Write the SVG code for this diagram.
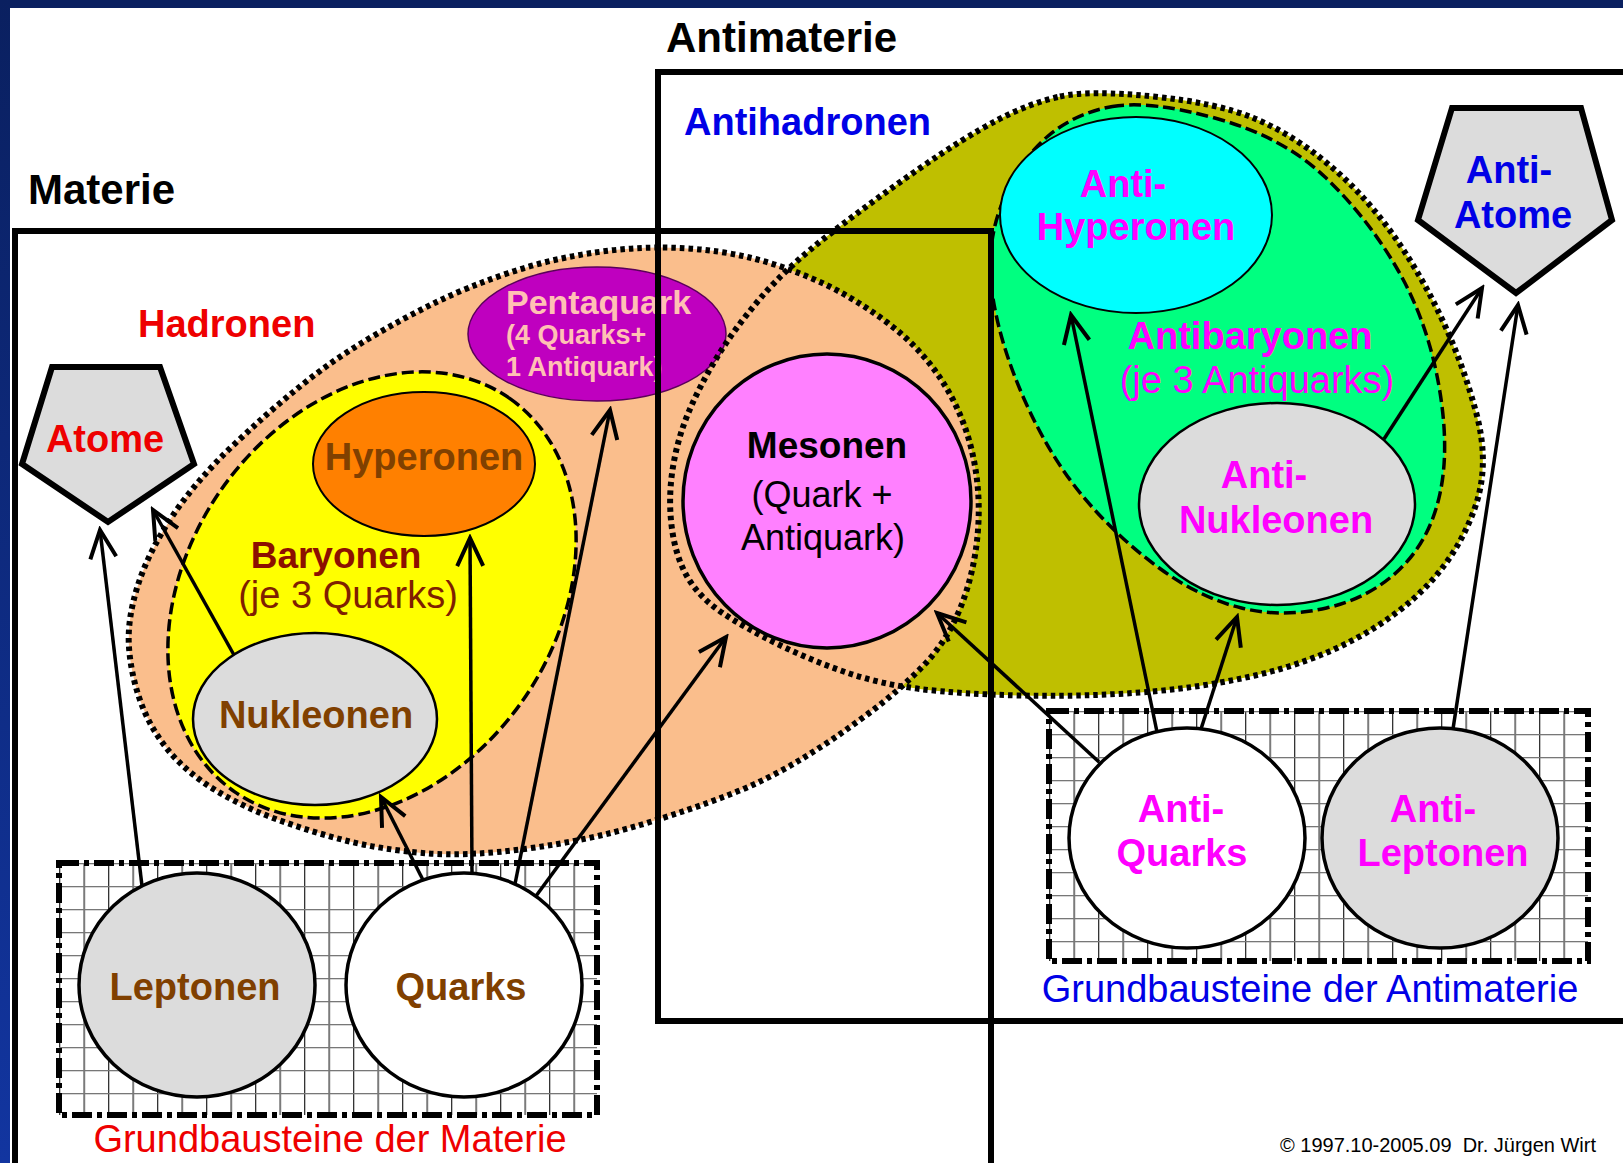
<svg xmlns="http://www.w3.org/2000/svg" width="1623" height="1163" viewBox="0 0 1623 1163">
<defs>
<style>
text{font-family:"Liberation Sans",Arial,sans-serif}
.b{font-weight:bold}
.c{text-anchor:middle}
.dot{fill:none;stroke:#000;stroke-width:6;stroke-dasharray:4.5 4}
.dash{stroke:#000;stroke-width:3.5;stroke-dasharray:12 5}
.box{fill:none;stroke:#000;stroke-width:6}
.dd{stroke:#000;stroke-width:6;stroke-dasharray:20 5 5 5}
.arr{fill:none;stroke:#000;stroke-width:3.5;marker-end:url(#ah)}
.red{fill:#EE0000}
.blue{fill:#0000E6}
.mag{fill:#FF00FF}
.brn{fill:#804000}
.gray{fill:#DCDCDC}
.pent{fill:#DCDCDC;stroke:#000;stroke-width:6;stroke-linejoin:miter}
</style>
<linearGradient id="lb" x1="0" y1="0" x2="0" y2="1">
<stop offset="0" stop-color="#0A2060"/><stop offset="1" stop-color="#1235A0"/>
</linearGradient>
<marker id="ah" markerUnits="userSpaceOnUse" viewBox="-32 -16 36 32" markerWidth="36" markerHeight="32" refX="0" refY="0" orient="auto">
<path d="M-28,-13 L0,0 L-28,13" fill="none" stroke="#000" stroke-width="4"/>
</marker>
<pattern id="g1" patternUnits="userSpaceOnUse" x="59" y="863" width="24.5" height="23">
<path d="M0.65,0V23" stroke="#333" stroke-width="1.3"/><path d="M0,0.65H24.5" stroke="#777" stroke-width="1.3"/>
</pattern>
<pattern id="g2" patternUnits="userSpaceOnUse" x="1049" y="711" width="24.5" height="23">
<path d="M0.65,0V23" stroke="#333" stroke-width="1.3"/><path d="M0,0.65H24.5" stroke="#777" stroke-width="1.3"/>
</pattern>
</defs>

<g id="frame">
<rect width="1623" height="1163" fill="#fff"/>
<rect width="1623" height="8" fill="#0A2060"/>
<rect width="10" height="1163" fill="url(#lb)"/>
</g>

<g id="titles">
<text class="b" x="28" y="204" font-size="42">Materie</text>
<text class="b" x="666" y="52" font-size="42">Antimaterie</text>
</g>

<g id="hadronen-antihadronen-fills">
<path id="olive-fill" fill="#BFBF00" d="M1060,96.5 Q1090,90 1153.5,96.5 Q1217,103 1253.5,118 Q1290,133 1325,161.5 Q1360,190 1388.5,228.5 Q1417,267 1440,315 Q1463,363 1476.5,414 Q1490,465 1475,507.5 Q1460,550 1430,582.5 Q1400,615 1355,639 Q1310,663 1255,675.5 Q1200,688 1140,692.5 Q1080,697 1020,695.5 Q960,694 920,689 Q880,684 845,672 Q810,660 777.5,644 Q745,628 722.5,613 Q700,598 688,578 Q676,558 672,529 Q668,500 672.5,470 Q677,440 688.5,412.5 Q700,385 717.5,356.5 Q735,328 761,297.5 Q787,267 830.5,233.5 Q874,200 919.5,168.5 Q965,137 997.5,120 Q1030,103 1060,96.5Z"/>
<path id="orange-fill" fill="#FABE8C" d="M595,252.5 Q640,246 680,248 Q720,250 753.5,258.5 Q787,267 820,282 Q853,297 886.5,322 Q920,347 941.5,380 Q963,413 972,451.5 Q981,490 978,530 Q975,570 961.5,605 Q948,640 924,665 Q900,690 866.5,715 Q833,740 800,760 Q767,780 728.5,795 Q690,810 640,825 Q590,840 528,848.5 Q466,857 422.5,853 Q379,849 345.5,840.5 Q312,832 278.5,820 Q245,808 216,790.5 Q187,773 168.5,750.5 Q150,728 140.5,701.5 Q131,675 129,647.5 Q127,620 137.5,586.5 Q148,553 171.5,517.5 Q195,482 231,447.5 Q267,413 300,386.5 Q333,360 366.5,340 Q400,320 433.5,303.5 Q467,287 508.5,273 Q550,259 595,252.5Z"/>
</g>

<g id="pentaquark">
<ellipse cx="597" cy="334" rx="129" ry="67" fill="#BF00BF" stroke="#5A005A" stroke-width="1.5"/>
<text class="b" x="506" y="314" font-size="34" fill="#FFC0B4">Pentaquark</text>
<text class="b" x="506" y="344" font-size="27" fill="#FFC0B4">(4 Quarks+</text>
<text class="b" x="506" y="376" font-size="27" fill="#FFC0B4">1 Antiquark)</text>
</g>

<g id="hadronen">
<path class="dot" d="M595,252.5 Q640,246 680,248 Q720,250 753.5,258.5 Q787,267 820,282 Q853,297 886.5,322 Q920,347 941.5,380 Q963,413 972,451.5 Q981,490 978,530 Q975,570 961.5,605 Q948,640 924,665 Q900,690 866.5,715 Q833,740 800,760 Q767,780 728.5,795 Q690,810 640,825 Q590,840 528,848.5 Q466,857 422.5,853 Q379,849 345.5,840.5 Q312,832 278.5,820 Q245,808 216,790.5 Q187,773 168.5,750.5 Q150,728 140.5,701.5 Q131,675 129,647.5 Q127,620 137.5,586.5 Q148,553 171.5,517.5 Q195,482 231,447.5 Q267,413 300,386.5 Q333,360 366.5,340 Q400,320 433.5,303.5 Q467,287 508.5,273 Q550,259 595,252.5Z"/>
<text class="b red" x="138" y="337" font-size="38">Hadronen</text>
</g>

<g id="antihadronen">
<path class="dot" d="M1060,96.5 Q1090,90 1153.5,96.5 Q1217,103 1253.5,118 Q1290,133 1325,161.5 Q1360,190 1388.5,228.5 Q1417,267 1440,315 Q1463,363 1476.5,414 Q1490,465 1475,507.5 Q1460,550 1430,582.5 Q1400,615 1355,639 Q1310,663 1255,675.5 Q1200,688 1140,692.5 Q1080,697 1020,695.5 Q960,694 920,689 Q880,684 845,672 Q810,660 777.5,644 Q745,628 722.5,613 Q700,598 688,578 Q676,558 672,529 Q668,500 672.5,470 Q677,440 688.5,412.5 Q700,385 717.5,356.5 Q735,328 761,297.5 Q787,267 830.5,233.5 Q874,200 919.5,168.5 Q965,137 997.5,120 Q1030,103 1060,96.5Z"/>
<text class="b blue" x="684" y="135" font-size="38">Antihadronen</text>
</g>

<g id="baryonen">
<ellipse class="dash" cx="372" cy="595" rx="240" ry="184" transform="rotate(-55 372 595)" fill="#FFFF00"/>
<text class="b c" x="336" y="568" font-size="37" fill="#8C1000">Baryonen</text>
<text class="c" x="348" y="608" font-size="38" fill="#7F1F00">(je 3 Quarks)</text>
</g>

<g id="hyperonen">
<ellipse cx="424" cy="464" rx="111" ry="72" fill="#FF8000" stroke="#000" stroke-width="2"/>
<text class="b c brn" x="424" y="470" font-size="38">Hyperonen</text>
</g>

<g id="nukleonen">
<ellipse class="gray" cx="315" cy="719" rx="122" ry="86" stroke="#000" stroke-width="2.5"/>
<text class="b c brn" x="316" y="728" font-size="38">Nukleonen</text>
</g>

<g id="mesonen">
<ellipse cx="827" cy="501" rx="144" ry="147" fill="#FF80FF" stroke="#000" stroke-width="3.5"/>
<text class="b c" x="827" y="458" font-size="37">Mesonen</text>
<text class="c" x="822" y="507" font-size="36">(Quark +</text>
<text class="c" x="823" y="550" font-size="36">Antiquark)</text>
</g>

<g id="antibaryonen">
<path class="dash" fill="#00FF80" d="M1112.5,106.5 Q1150,100 1216.5,118.5 Q1283,137 1325,177 Q1367,217 1397,268.5 Q1427,320 1438.5,383.5 Q1450,447 1440,493.5 Q1430,540 1400,569 Q1370,598 1326.5,608 Q1283,618 1241.5,608 Q1200,598 1158.5,567.5 Q1117,537 1083.5,497 Q1050,457 1025,401 Q1000,345 992.5,295 Q985,245 1002.5,202.5 Q1020,160 1047.5,136.5 Q1075,113 1112.5,106.5Z"/>
<text class="b c mag" x="1250" y="349" font-size="38">Antibaryonen</text>
<text class="c mag" x="1257" y="393" font-size="38">(je 3 Antiquarks)</text>
</g>

<g id="antihyperonen">
<ellipse cx="1136" cy="215" rx="136" ry="98" fill="#00FFFF" stroke="#000" stroke-width="2"/>
<text class="b c mag" x="1123" y="197" font-size="38">Anti-</text>
<text class="b c mag" x="1136" y="240" font-size="38">Hyperonen</text>
</g>

<g id="antinukleonen">
<ellipse class="gray" cx="1277" cy="504" rx="138" ry="101" stroke="#000" stroke-width="2.5"/>
<text class="b c mag" x="1264" y="488" font-size="38">Anti-</text>
<text class="b c mag" x="1276" y="533" font-size="38">Nukleonen</text>
</g>

<g id="atome">
<polygon class="pent" points="52,367 160,367 194,464 108,522 22,464"/>
<text class="b c red" x="105" y="452" font-size="38">Atome</text>
</g>

<g id="antiatome">
<polygon class="pent" points="1452,108 1581,108 1612,220 1516,293 1418,220"/>
<text class="b c blue" x="1509" y="183" font-size="38">Anti-</text>
<text class="b c blue" x="1513" y="228" font-size="38">Atome</text>
</g>

<g id="grundbausteine-materie">
<rect x="59" y="863" width="538" height="252" fill="url(#g1)"/>
<rect class="dd" x="59" y="863" width="538" height="252" fill="none"/>
<text class="c red" x="330" y="1152" font-size="38">Grundbausteine der Materie</text>
</g>

<g id="leptonen">
<ellipse class="gray" cx="197" cy="985" rx="118" ry="112" stroke="#000" stroke-width="3.5"/>
<text class="b c brn" x="195" y="1000" font-size="38">Leptonen</text>
</g>

<g id="quarks">
<ellipse cx="464" cy="985" rx="118" ry="112" fill="#fff" stroke="#000" stroke-width="3.5"/>
<text class="b c brn" x="461" y="1000" font-size="38">Quarks</text>
</g>

<g id="grundbausteine-antimaterie">
<rect x="1049" y="711" width="539" height="250" fill="url(#g2)"/>
<rect class="dd" x="1049" y="711" width="539" height="250" fill="none"/>
<text class="c blue" x="1310" y="1002" font-size="38">Grundbausteine der Antimaterie</text>
</g>

<g id="antiquarks">
<ellipse cx="1187" cy="838" rx="118" ry="110" fill="#fff" stroke="#000" stroke-width="3.5"/>
<text class="b c mag" x="1181" y="822" font-size="38">Anti-</text>
<text class="b c mag" x="1182" y="866" font-size="38">Quarks</text>
</g>

<g id="antileptonen">
<ellipse class="gray" cx="1440" cy="838" rx="118" ry="110" stroke="#000" stroke-width="3.5"/>
<text class="b c mag" x="1433" y="822" font-size="38">Anti-</text>
<text class="b c mag" x="1443" y="866" font-size="38">Leptonen</text>
</g>

<g id="materie-box">
<rect class="box" x="15" y="231" width="976" height="935"/>
</g>
<g id="antimaterie-box">
<path class="box" d="M1630,72 H658 V1021 H1630"/>
</g>

<g id="connectors">
<line class="arr" x1="142" y1="886" x2="100" y2="530"/>
<line class="arr" x1="234" y1="655" x2="153" y2="510"/>
<line class="arr" x1="423" y1="880" x2="381" y2="797"/>
<line class="arr" x1="472" y1="873" x2="470" y2="538"/>
<line class="arr" x1="515" y1="884" x2="610" y2="410"/>
<line class="arr" x1="536" y1="896" x2="726" y2="637"/>
<line class="arr" x1="1099" y1="762" x2="937" y2="613"/>
<line class="arr" x1="1157" y1="732" x2="1071" y2="315"/>
<line class="arr" x1="1201" y1="729" x2="1237" y2="617"/>
<line class="arr" x1="1384" y1="439" x2="1482" y2="288"/>
<line class="arr" x1="1453" y1="729" x2="1518" y2="305"/>
</g>

<text x="1280" y="1152" font-size="20" xml:space="preserve">© 1997.10-2005.09  Dr. Jürgen Wirt</text>
</svg>
